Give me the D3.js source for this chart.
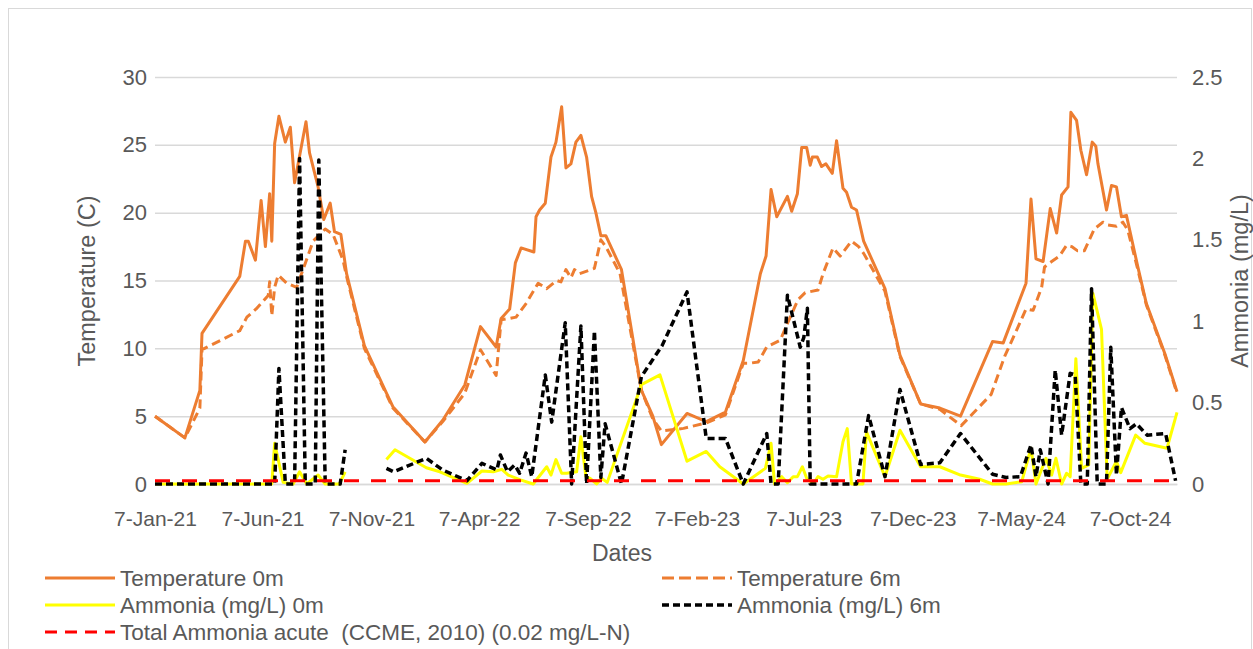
<!DOCTYPE html>
<html>
<head>
<meta charset="utf-8">
<script src="https://cdn.jsdelivr.net/npm/d3@7"></script>
<style>
  html, body { margin: 0; padding: 0; background: #ffffff; }
  svg { display: block; font-family: "Liberation Sans", Arial, sans-serif; }
</style>
</head>
<body>
<svg id="chart" width="1253" height="649"></svg>
<script>
// ---------- DATA ----------
const xTickDates = ["2021-01-07","2021-06-07","2021-11-07","2022-04-07","2022-09-07","2023-02-07","2023-07-07","2023-12-07","2024-05-07","2024-10-07"];
const dateDomain = ["2021-01-07", "2024-12-12"];
const tempTicks = [0, 5, 10, 15, 20, 25, 30];
const ammoniaTicks = [0, 0.5, 1, 1.5, 2, 2.5];

const temperature0m = [
  ["2021-01-07",5.0],["2021-02-18",3.4],["2021-03-11",6.9],["2021-03-14",11.1],["2021-05-06",15.3],
  ["2021-05-14",17.9],["2021-05-18",17.9],["2021-05-28",16.5],["2021-06-05",20.9],["2021-06-11",17.5],
  ["2021-06-17",21.4],["2021-06-20",17.9],["2021-06-24",25.1],["2021-06-30",27.1],["2021-07-09",25.2],
  ["2021-07-16",26.3],["2021-07-22",22.2],["2021-08-07",26.7],["2021-08-12",24.4],["2021-08-24",21.9],
  ["2021-09-01",19.5],["2021-09-10",20.7],["2021-09-16",18.6],["2021-09-25",18.4],["2021-10-03",15.5],
  ["2021-10-28",10.2],["2021-11-28",6.7],["2021-12-07",5.7],["2022-01-21",3.1],["2022-02-15",4.7],
  ["2022-03-18",7.3],["2022-04-09",11.6],["2022-05-01",10.1],["2022-05-08",12.2],["2022-05-20",12.9],
  ["2022-05-28",16.3],["2022-06-05",17.4],["2022-06-23",17.1],["2022-06-26",19.7],["2022-07-01",20.2],
  ["2022-07-09",20.7],["2022-07-17",24.1],["2022-07-24",25.2],["2022-08-01",27.8],["2022-08-07",23.3],
  ["2022-08-14",23.6],["2022-08-21",25.2],["2022-08-28",25.7],["2022-09-05",24.1],["2022-09-12",21.2],
  ["2022-09-18",20.0],["2022-09-25",18.3],["2022-10-02",18.3],["2022-10-24",15.8],["2022-11-21",6.9],
  ["2022-12-07",5.0],["2022-12-19",2.9],["2023-01-24",5.2],["2023-02-20",4.6],["2023-03-19",5.3],
  ["2023-04-13",9.1],["2023-05-07",15.5],["2023-05-15",16.8],["2023-05-22",21.7],["2023-05-30",19.7],
  ["2023-06-14",21.2],["2023-06-20",20.1],["2023-06-28",21.4],["2023-07-04",24.8],["2023-07-11",24.8],
  ["2023-07-16",23.5],["2023-07-19",24.1],["2023-07-26",24.1],["2023-08-01",23.4],["2023-08-07",23.6],
  ["2023-08-16",22.9],["2023-08-22",25.3],["2023-08-31",21.8],["2023-09-05",21.5],["2023-09-12",20.4],
  ["2023-09-19",20.2],["2023-09-29",17.9],["2023-10-29",14.4],["2023-11-19",9.5],["2023-12-18",5.9],
  ["2024-01-14",5.6],["2024-02-12",5.0],["2024-03-28",10.5],["2024-04-12",10.4],["2024-05-14",14.8],
  ["2024-05-21",21.0],["2024-05-28",16.6],["2024-06-07",16.4],["2024-06-17",20.3],["2024-06-26",18.5],
  ["2024-07-03",21.3],["2024-07-12",21.9],["2024-07-16",27.4],["2024-07-24",26.8],["2024-07-30",24.6],
  ["2024-08-07",22.8],["2024-08-15",25.2],["2024-08-20",24.9],["2024-08-23",23.6],["2024-09-04",20.2],
  ["2024-09-11",22.0],["2024-09-18",21.9],["2024-09-25",19.7],["2024-10-02",19.8],["2024-10-18",16.0],
  ["2024-10-30",13.3],["2024-11-25",9.6],["2024-12-12",6.8]
];

const temperature6m = [
  ["2021-01-07",5.0],["2021-02-18",3.4],["2021-03-11",5.6],["2021-03-14",9.9],["2021-05-06",11.3],
  ["2021-05-16",12.3],["2021-05-29",12.9],["2021-06-15",13.9],["2021-06-17",14.9],["2021-06-20",12.4],
  ["2021-06-24",14.5],["2021-06-29",15.4],["2021-07-11",14.8],["2021-07-25",14.5],["2021-08-17",17.9],
  ["2021-09-03",18.8],["2021-09-14",18.4],["2021-09-28",16.5],["2021-10-03",15.3],["2021-10-28",10.0],
  ["2021-11-28",6.6],["2021-12-07",5.6],["2022-01-21",3.1],["2022-02-15",4.6],["2022-03-18",6.7],
  ["2022-04-09",9.9],["2022-05-01",8.0],["2022-05-08",12.1],["2022-05-19",12.2],["2022-05-29",12.3],
  ["2022-06-12",13.3],["2022-06-29",14.8],["2022-07-11",14.4],["2022-07-25",15.0],["2022-07-31",14.9],
  ["2022-08-07",15.8],["2022-08-14",15.2],["2022-08-19",15.8],["2022-08-26",15.5],["2022-09-16",15.9],
  ["2022-09-25",18.0],["2022-10-02",17.5],["2022-10-22",15.5],["2022-11-21",6.9],["2022-12-07",4.8],
  ["2022-12-19",3.9],["2023-01-19",4.1],["2023-02-20",4.5],["2023-03-19",5.1],["2023-04-13",8.9],
  ["2023-04-22",8.9],["2023-05-04",9.0],["2023-05-16",10.1],["2023-06-04",10.6],["2023-06-12",11.6],
  ["2023-06-29",13.6],["2023-07-09",14.1],["2023-07-27",14.3],["2023-08-03",15.5],["2023-08-17",17.4],
  ["2023-08-27",16.8],["2023-09-12",17.9],["2023-09-22",17.5],["2023-09-29",17.0],["2023-10-29",14.2],
  ["2023-11-19",9.4],["2023-12-18",5.9],["2024-01-14",5.5],["2024-02-13",4.3],["2024-03-26",6.6],
  ["2024-04-14",9.4],["2024-05-03",11.6],["2024-05-14",12.9],["2024-05-24",12.8],["2024-06-05",14.5],
  ["2024-06-09",16.0],["2024-06-19",16.4],["2024-06-30",16.8],["2024-07-10",17.6],["2024-07-17",17.5],
  ["2024-07-25",17.2],["2024-08-04",17.2],["2024-08-18",18.8],["2024-08-30",19.3],["2024-09-06",19.1],
  ["2024-09-18",19.0],["2024-09-27",19.3],["2024-10-04",18.7],["2024-10-18",15.8],["2024-10-30",13.2],
  ["2024-11-25",9.5],["2024-12-12",6.7]
];

const ammonia0m = [
  ["2021-01-07",0],["2021-02-18",0],["2021-03-14",0],["2021-05-06",0],["2021-06-05",0],["2021-06-20",0],
  ["2021-06-24",0.25],["2021-07-06",0.01],["2021-07-20",0],["2021-07-29",0.075],["2021-08-08",0],
  ["2021-08-24",0.055],["2021-09-03",0],["2021-09-23",0],["2021-10-01",0.075],["2021-10-28",null],
  ["2021-11-28",0.15],["2021-12-10",0.21],["2022-01-23",0.1],["2022-02-11",0.075],["2022-03-21",0.004],
  ["2022-04-11",0.08],["2022-04-27",0.075],["2022-05-09",0.09],["2022-05-18",0.055],["2022-06-04",0.025],
  ["2022-06-22",0],["2022-07-11",0.106],["2022-07-17",0.055],["2022-07-24",0.15],["2022-08-01",0.066],
  ["2022-08-08",0.066],["2022-08-22",0.075],["2022-08-28",0.29],["2022-09-04",0.045],["2022-09-10",0.035],
  ["2022-09-19",0],["2022-09-26",0.035],["2022-10-04",0.01],["2022-11-21",0.61],["2022-12-17",0.67],
  ["2023-01-24",0.14],["2023-02-20",0.2],["2023-03-11",0.106],["2023-04-13",0],["2023-05-14",0.096],
  ["2023-05-22",0.25],["2023-05-27",0],["2023-06-06",0.045],["2023-06-14",0.008],["2023-06-22",0.045],
  ["2023-06-28",0.045],["2023-07-05",0.106],["2023-07-11",0.035],["2023-07-20",0],["2023-07-27",0.045],
  ["2023-08-03",0.029],["2023-08-10",0.049],["2023-08-22",0.045],["2023-08-31",0.26],["2023-09-06",0.34],
  ["2023-09-12",0],["2023-09-28",0],["2023-10-03",0.32],["2023-10-29",0.045],["2023-11-19",0.33],
  ["2023-12-18",0.106],["2024-01-14",0.106],["2024-02-12",0.055],["2024-03-10",0.029],["2024-03-28",0],
  ["2024-04-16",0],["2024-05-08",0.014],["2024-05-21",0.22],["2024-05-28",0],["2024-06-11",0.158],
  ["2024-06-19",0.055],["2024-06-25",0.158],["2024-07-03",0],["2024-07-10",0.066],["2024-07-15",0.045],
  ["2024-07-23",0.77],["2024-07-31",0.096],["2024-08-10",0.117],["2024-08-16",1.17],["2024-08-28",0.95],
  ["2024-09-05",0.03],["2024-09-18",0.14],["2024-09-24",0.07],["2024-10-15",0.3],["2024-10-28",0.25],
  ["2024-11-28",0.22],["2024-12-12",0.44]
];

const ammonia6m = [
  ["2021-01-07",0],["2021-02-18",0],["2021-03-14",0],["2021-05-06",0],["2021-06-05",0],["2021-06-24",0],
  ["2021-06-30",0.71],["2021-07-09",0],["2021-07-22",0],["2021-07-29",2.0],["2021-08-06",0],
  ["2021-08-20",0],["2021-08-25",1.99],["2021-09-03",0],["2021-09-24",0],["2021-10-01",0.21],
  ["2021-10-28",null],["2021-11-28",0.096],["2021-12-08",0.075],["2022-01-23",0.158],["2022-02-15",0.086],
  ["2022-03-21",0.02],["2022-04-11",0.127],["2022-05-02",0.086],["2022-05-07",0.178],["2022-05-17",0.075],
  ["2022-05-27",0.117],["2022-06-03",0.066],["2022-06-12",0.19],["2022-06-20",0.045],["2022-07-09",0.67],
  ["2022-07-18",0.38],["2022-08-06",0.99],["2022-08-15",0],["2022-08-28",0.97],["2022-09-05",0],
  ["2022-09-16",0.94],["2022-09-25",0.04],["2022-10-01",0.37],["2022-10-24",0],["2022-11-21",0.66],
  ["2022-12-20",0.85],["2023-01-24",1.18],["2023-02-20",0.28],["2023-03-19",0.28],["2023-04-13",0],
  ["2023-05-16",0.31],["2023-05-22",0],["2023-06-01",0],["2023-06-14",1.16],["2023-07-02",0.84],
  ["2023-07-07",0.9],["2023-07-12",1.08],["2023-07-16",0],["2023-09-19",0],["2023-10-06",0.42],
  ["2023-10-29",0.045],["2023-11-19",0.58],["2023-12-18",0.12],["2024-01-14",0.13],["2024-02-12",0.31],
  ["2024-03-28",0.06],["2024-04-16",0.04],["2024-05-06",0.045],["2024-05-21",0.24],["2024-05-28",0.045],
  ["2024-06-03",0.21],["2024-06-14",0],["2024-06-24",0.7],["2024-07-03",0.3],["2024-07-15",0.68],
  ["2024-07-22",0.67],["2024-07-30",0],["2024-08-08",0],["2024-08-14",1.2],["2024-08-22",0],
  ["2024-09-04",0],["2024-09-10",0.84],["2024-09-18",0.055],["2024-09-25",0.47],["2024-10-07",0.34],
  ["2024-10-16",0.37],["2024-10-31",0.3],["2024-11-26",0.31],["2024-12-10",0.02]
];

const ammoniaLimit = [["2021-01-07",0.02],["2024-12-12",0.02]];

const legendLabels = ["Temperature 0m","Temperature 6m","Ammonia (mg/L) 0m","Ammonia (mg/L) 6m","Total Ammonia acute  (CCME, 2010) (0.02 mg/L-N)"];

// ---------- DRAW ----------
const svg = d3.select("#chart");
const parse = d3.timeParse("%Y-%m-%d");
const plotLeft = 155, plotRight = 1177, plotTop = 77, plotBottom = 484;
const textColor = "#595959";

svg.append("rect").attr("x",8.5).attr("y",8.5).attr("width",1243).attr("height",700)
  .attr("fill","#fff").attr("stroke","#d9d9d9").attr("stroke-width",1);

const x = d3.scaleTime().domain(dateDomain.map(parse)).range([plotLeft, plotRight]);
const yL = d3.scaleLinear().domain([0,30]).range([plotBottom, plotTop]);
const yR = d3.scaleLinear().domain([0,2.5]).range([plotBottom, plotTop]);

// gridlines
const grid = svg.append("g").attr("transform",`translate(${plotLeft},0)`)
  .call(d3.axisLeft(yL).tickValues(tempTicks).tickSize(-(plotRight-plotLeft)).tickFormat(""));
grid.select(".domain").remove();
grid.selectAll("line").attr("stroke","#d9d9d9").attr("stroke-width",1.5);

// left axis labels
const la = svg.append("g").attr("transform",`translate(${plotLeft-8},0)`)
  .call(d3.axisLeft(yL).tickValues(tempTicks).tickSize(0).tickPadding(0));
la.select(".domain").remove();
la.selectAll("text").attr("fill",textColor).style("font-size","22px")
  .style("font-family","'Liberation Sans', Arial, sans-serif");

// right axis labels
const ra = svg.append("g").attr("transform",`translate(${plotRight+15},0)`)
  .call(d3.axisRight(yR).tickValues(ammoniaTicks).tickSize(0).tickPadding(0).tickFormat(d3.format("")));
ra.select(".domain").remove();
ra.selectAll("text").attr("fill",textColor).style("font-size","22px")
  .style("font-family","'Liberation Sans', Arial, sans-serif");

// x axis
const xa = svg.append("g").attr("transform",`translate(0,${plotBottom})`)
  .call(d3.axisBottom(x).tickValues(xTickDates.map(parse)).tickSize(0).tickPadding(42)
    .tickFormat(d3.timeFormat("%-d-%b-%y")));
xa.select(".domain").attr("stroke","#d9d9d9").attr("stroke-width",1.5);
xa.selectAll("text").attr("fill",textColor).style("font-size","21px")
  .style("font-family","'Liberation Sans', Arial, sans-serif").attr("dy","0");

// titles
svg.append("text").attr("x",622).attr("y",561).attr("text-anchor","middle")
  .attr("fill",textColor).style("font-size","23px").text("Dates");
svg.append("text").attr("transform","translate(95,281) rotate(-90)").attr("text-anchor","middle")
  .attr("fill",textColor).style("font-size","23.5px").text("Temperature (C)");
svg.append("text").attr("transform","translate(1248,281) rotate(-90)").attr("text-anchor","middle")
  .attr("fill",textColor).style("font-size","23.5px").text("Ammonia (mg/L)");

// series
const lineL = d3.line().defined(d => d[1] !== null).x(d => x(parse(d[0]))).y(d => yL(d[1]));
const lineR = d3.line().defined(d => d[1] !== null).x(d => x(parse(d[0]))).y(d => yR(d[1]));

const styles = [
  {data: temperature0m, line: lineL, color:"#ED7D31", width:3, dash:null},
  {data: temperature6m, line: lineL, color:"#ED7D31", width:3, dash:"9,5"},
  {data: ammonia0m, line: lineR, color:"#FFFF00", width:3, dash:null},
  {data: ammonia6m, line: lineR, color:"#000000", width:3.5, dash:"7,4"},
  {data: ammoniaLimit, line: lineR, color:"#FF0000", width:3, dash:"15,12"}
];
styles.forEach(s => {
  svg.append("path").datum(s.data).attr("d", s.line)
    .attr("fill","none").attr("stroke", s.color).attr("stroke-width", s.width)
    .attr("stroke-linejoin","round")
    .attr("stroke-dasharray", s.dash);
});

// legend
const legendPos = [
  {x:45, y:578}, {x:662, y:578}, {x:45, y:605}, {x:662, y:605}, {x:45, y:632}
];
const legendDash = [null, "12,5", null, "7,4", "12,8"];
legendLabels.forEach((lab, i) => {
  const p = legendPos[i], s = styles[i];
  svg.append("line").attr("x1",p.x).attr("x2",p.x+70).attr("y1",p.y).attr("y2",p.y)
    .attr("stroke", s.color).attr("stroke-width", s.width).attr("stroke-dasharray", legendDash[i]);
  svg.append("text").attr("x",p.x+75).attr("y",p.y+8).attr("fill",textColor)
    .style("font-size","22.5px").style("white-space","pre").text(lab);
});
</script>
</body>
</html>
